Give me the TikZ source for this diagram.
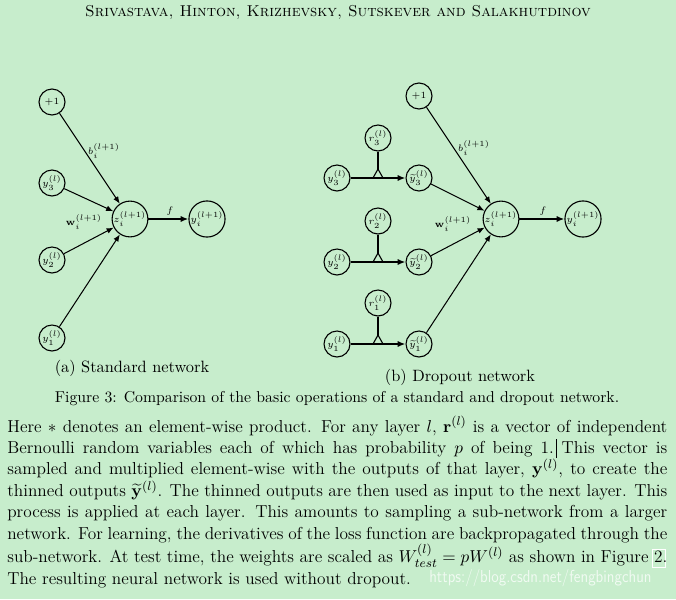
\documentclass[tikz,border=0pt]{standalone}
\usepackage{amsmath}
\usepackage{graphicx}
\usetikzlibrary{arrows.meta}
\DeclareMathSizes{6}{6}{5.3}{5}
\definecolor{bg}{RGB}{199,237,204}
\definecolor{markc}{RGB}{255,255,255}
\newcommand{\lnkbox}[1]{\rlap{\kern-1.2pt\textcolor{markc}{\fboxsep=0pt\fboxrule=0.6pt\fbox{\phantom{\rule[-3pt]{0pt}{11pt}\kern1.2pt #1\kern1.2pt}}}}#1}
\newcommand{\cursormark}{\rlap{\kern1.5pt\rule[-3pt]{0.4pt}{12pt}}}
\begin{document}
\begin{tikzpicture}[x=0.635pt,y=-0.635pt,
  neuron/.style={circle,draw,line width=0.7pt,minimum size=16.5pt,inner sep=0pt,font=\fontsize{6}{7}\selectfont},
  conn/.style={-{Latex[length=4.5pt,width=3.6pt]},line width=0.65pt},
  thickconn/.style={-{Latex[length=5pt,width=4pt]},line width=1.1pt},
  elabel/.style={font=\fontsize{6}{7}\selectfont,inner sep=0pt},
  captext/.style={font=\fontsize{10}{12}\selectfont,inner sep=0pt},
  tri/.style={line width=0.7pt}]
\useasboundingbox[fill=bg] (0,0) rectangle (676,599);

% header
\node[anchor=base,inner sep=0pt,font=\fontsize{10}{12}\selectfont] (head) at (338,17)
  {\textsc{Srivastava, Hinton, Krizhevsky, Sutskever and Salakhutdinov}};

% ---------- standard network ----------
\node[neuron] (ab) at (52,102) {$+1$};
\node[neuron] (ay3) at (52,183) {$y_3^{(l)}$};
\node[neuron] (ay2) at (52,260) {$y_2^{(l)}$};
\node[neuron] (ay1) at (52,338) {$y_1^{(l)}$};
\node[neuron] (az) at (130,219) {$z_i^{(l+1)}$};
\node[neuron] (ayo) at (207,219) {$y_i^{(l+1)}$};
\draw[conn] (ab) -- (az);
\draw[conn] (ay3) -- (az);
\draw[conn] (ay2) -- (az);
\draw[conn] (ay1) -- (az);
\draw[thickconn] (az) -- (ayo);
\node[elabel] (abl) at (104,151) {$b_i^{(l+1)}$};
\node[elabel] (awl) at (84,222) {$\mathbf{w}_i^{(l+1)}$};
\node[elabel] (afl) at (170,211) {$f$};

% ---------- dropout network ----------
\node[neuron] (bb) at (419,96) {$+1$};
\node[neuron] (br3) at (378,138) {$r_3^{(l)}$};
\node[neuron] (by3) at (337,178) {$y_3^{(l)}$};
\node[neuron] (bt3) at (419,178) {$\widetilde{y}_3^{(l)}$};
\node[neuron] (br2) at (378,221) {$r_2^{(l)}$};
\node[neuron] (by2) at (337,262) {$y_2^{(l)}$};
\node[neuron] (bt2) at (419,262) {$\widetilde{y}_2^{(l)}$};
\node[neuron] (br1) at (378,303) {$r_1^{(l)}$};
\node[neuron] (by1) at (337,344) {$y_1^{(l)}$};
\node[neuron] (bt1) at (419,344) {$\widetilde{y}_1^{(l)}$};
\node[neuron] (bz) at (501,219) {$z_i^{(l+1)}$};
\node[neuron] (byo) at (583,219) {$y_i^{(l+1)}$};

\coordinate (ap3) at (378,169);
\coordinate (ap2) at (378,253);
\coordinate (ap1) at (378,335);
\draw[thickconn] (by3) -- (bt3);
\draw[thickconn] (by2) -- (bt2);
\draw[thickconn] (by1) -- (bt1);
\draw[line width=1pt] (br3) -- (ap3);
\draw[line width=1pt] (br2) -- (ap2);
\draw[line width=1pt] (br1) -- (ap1);
\draw[tri] (ap3) -- ++(-5,9) -- ++(10,0) -- cycle;
\draw[tri] (ap2) -- ++(-5,9) -- ++(10,0) -- cycle;
\draw[tri] (ap1) -- ++(-5,9) -- ++(10,0) -- cycle;

\draw[conn] (bb) -- (bz);
\draw[conn] (bt3) -- (bz);
\draw[conn] (bt2) -- (bz);
\draw[conn] (bt1) -- (bz);
\draw[thickconn] (bz) -- (byo);
\node[elabel] (bbl) at (474,148) {$b_i^{(l+1)}$};
\node[elabel] (bwl) at (453,224) {$\mathbf{w}_i^{(l+1)}$};
\node[elabel] (bfl) at (543,211) {$f$};

% ---------- captions ----------
\node[captext,anchor=base,font=\fontsize{10.4}{12.5}\selectfont] (capa) at (132,372) {(a) Standard network};
\node[captext,anchor=base,font=\fontsize{10.4}{12.5}\selectfont] (capb) at (460,381) {(b) Dropout network};
\node[captext,anchor=base] (capf) at (337,402) {Figure 3: Comparison of the basic operations of a standard and dropout network.};

% ---------- paragraph ----------
\node[anchor=base west,inner sep=0pt] (para) at (7,432) {\parbox[t]{419.1pt}{\fontsize{11}{13.6}\selectfont
Here $*$ denotes an element-wise product. For any layer $l$, $\mathbf{r}^{(l)}$ is a vector of independent\linebreak
Bernoulli random variables each of which has probability $p$ of being 1.\cursormark{} This vector is\linebreak
sampled and multiplied element-wise with the outputs of that layer, $\mathbf{y}^{(l)}$, to create the\linebreak
thinned outputs $\widetilde{\mathbf{y}}^{(l)}$. The thinned outputs are then used as input to the next layer. This\linebreak
process is applied at each layer. This amounts to sampling a sub-network from a larger\linebreak
network. For learning, the derivatives of the loss function are backpropagated through the\linebreak
sub-network. At test time, the weights are scaled as $W^{(l)}_{test} = pW^{(l)}$ as shown in Figure \lnkbox{2}.\linebreak
The resulting neural network is used without dropout.}};

\node[anchor=base west,inner sep=0pt,font=\sffamily\fontsize{11}{12}\selectfont,text=white,opacity=0.75] (wm) at (429,582) {\scalebox{0.88}[1]{https://blog.csdn.net/fengbingchun}};
\end{tikzpicture}
\end{document}
